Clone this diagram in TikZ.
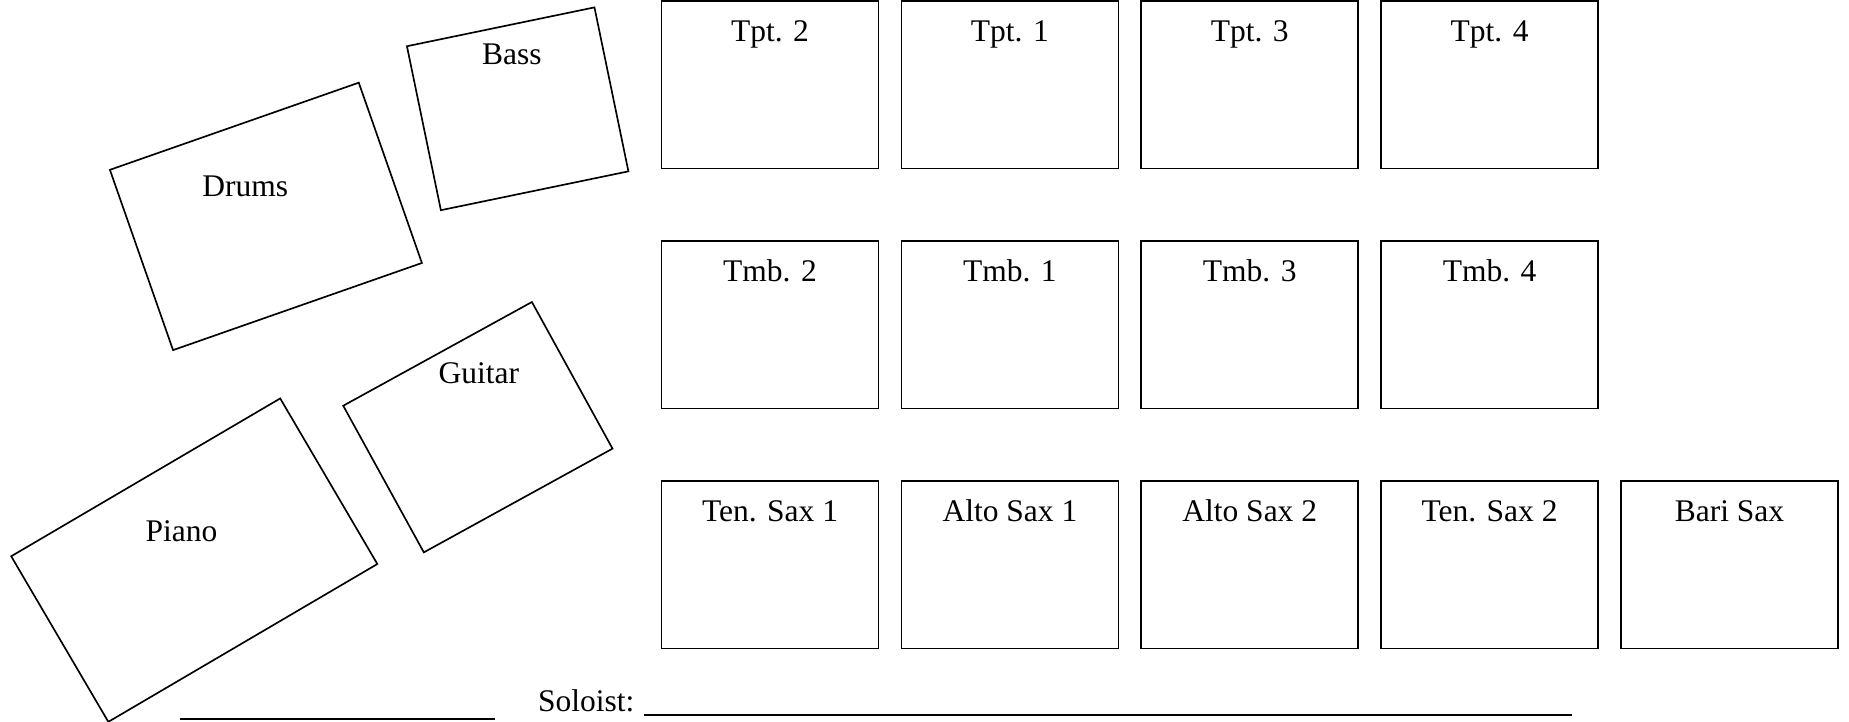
\documentclass[tikz,border=0pt]{standalone}
\usepackage{fontspec}
\setmainfont{Liberation Serif}
\usetikzlibrary{positioning}
\tikzset{
  seat/.style={draw, line width=0.8pt, inner sep=0pt, outer sep=0pt,
    minimum width=36.8mm, minimum height=28.4mm},
  lbl/.style={anchor=base, inner sep=0pt, font=\fontsize{15.2}{18}\selectfont},
  rule/.style={line width=0.9pt},
}

\begin{document}
\begin{tikzpicture}[x=0.2mm, y=-0.2mm]
  \useasboundingbox (0,0) rectangle (1568,612);
  % rhythm section, turned
  \foreach \nm/\txt/\cx/\cy/\bw/\bh/\ang/\lx/\ly in {
    drums/Drums/225.5/183.5/44.72/32.4/19.3/208/167,
    bass/Bass/439/92.25/32.48/28.4/11.7/434/55,
    guitar/Guitar/405.25/362.25/36.52/28.38/28.8/406/325,
    piano/Piano/164.75/475/52.9/32.56/30.4/154/459} {
    \node[seat, minimum width=\bw mm, minimum height=\bh mm, rotate=\ang]
      (\nm) at (\cx,\cy) {};
    \node[lbl] (\nm-l) at (\lx,\ly) {\txt};
  }
  % horns
  \foreach \nm/\txt/\c/\r in {
    tpt2/Tpt. 2/0/0, tpt1/Tpt. 1/1/0, tpt3/Tpt. 3/2/0, tpt4/Tpt. 4/3/0,
    tmb2/Tmb. 2/0/1, tmb1/Tmb. 1/1/1, tmb3/Tmb. 3/2/1, tmb4/Tmb. 4/3/1,
    tsax1/Ten. Sax 1/0/2, asax1/Alto Sax 1/1/2, asax2/Alto Sax 2/2/2,
    tsax2/Ten. Sax 2/3/2, bari/Bari Sax/4/2} {
    \pgfmathsetmacro\xp{653 + \c*203.4}
    \pgfmathsetmacro\yp{72 + \r*203.5}
    \node[seat] (\nm) at (\xp,\yp) {};
    \node[lbl] (\nm-l) at ([yshift=-6.8mm]\nm.north) {\txt};
  }
  % lines at the bottom
  \coordinate (name-a) at (153,610);
  \coordinate (name-b) at (420,610);
  \draw[rule] (name-a) -- (name-b);
  \node[lbl, anchor=base west] (solo) at (456,603) {Soloist:};
  \coordinate (solo-a) at (546,606);
  \coordinate (solo-b) at (1333,606);
  \draw[rule] (solo-a) -- (solo-b);
\end{tikzpicture}
\end{document}
